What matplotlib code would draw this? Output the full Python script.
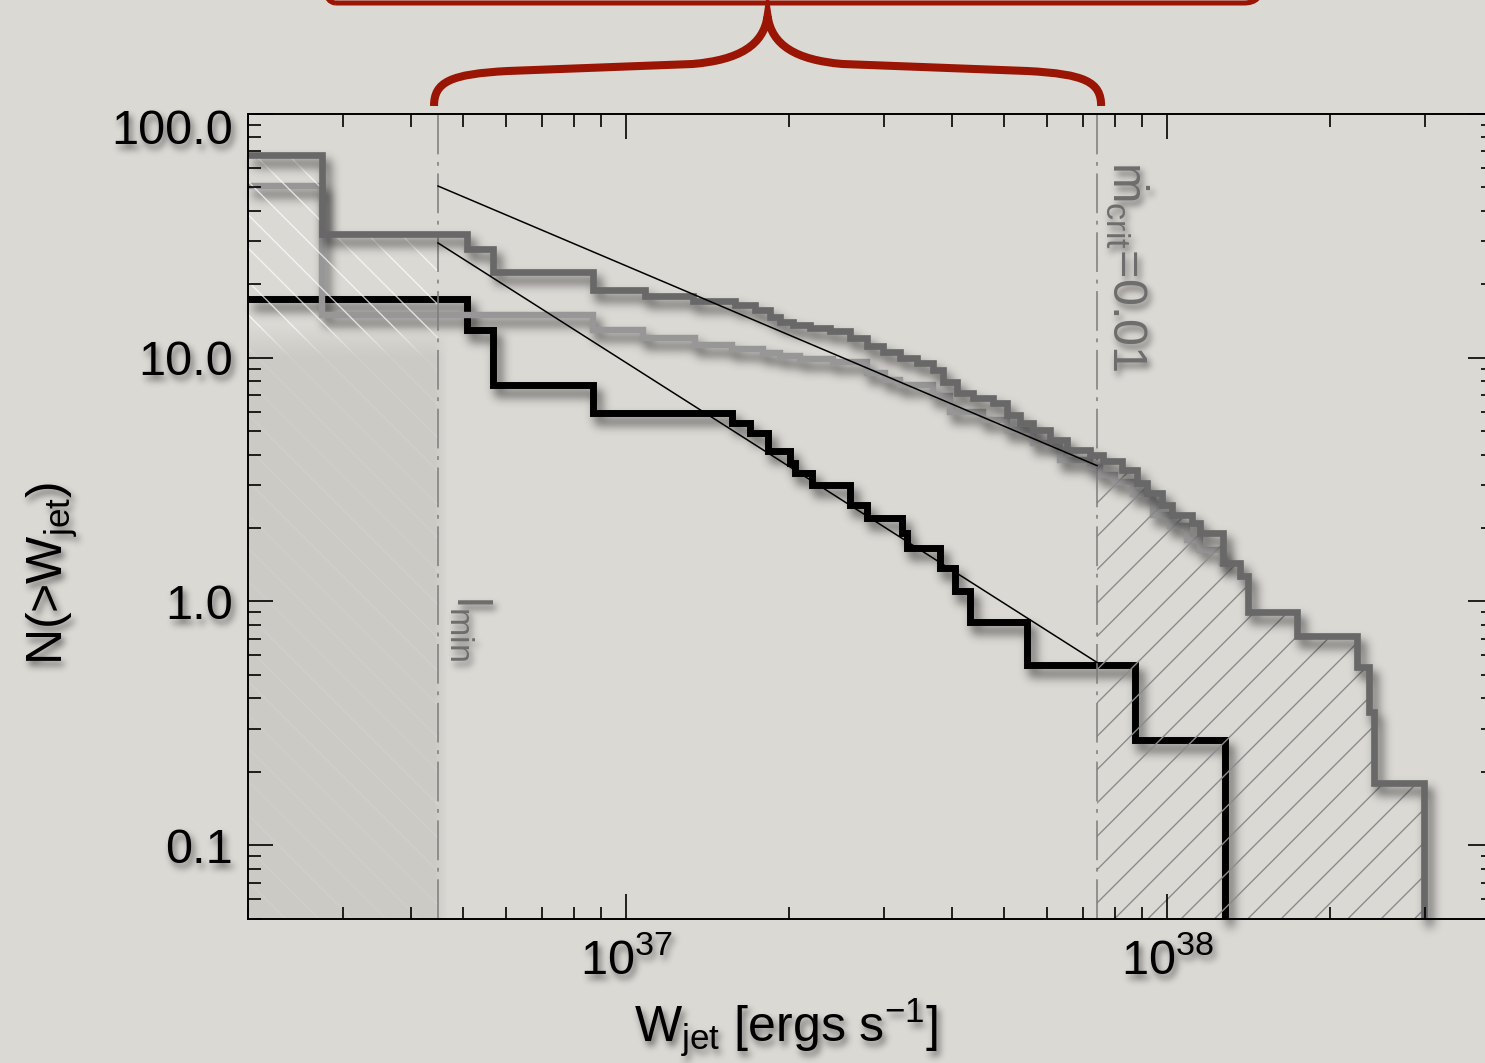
import numpy as np
import matplotlib
matplotlib.use("Agg")
import matplotlib.pyplot as plt
from matplotlib import ticker, transforms
from matplotlib.path import Path
from matplotlib.patches import PathPatch, FancyBboxPatch

plt.rcParams['font.family'] = ['Liberation Sans', 'DejaVu Sans']
plt.rcParams['mathtext.fontset'] = 'custom'
plt.rcParams['mathtext.rm'] = 'Liberation Sans'
plt.rcParams['mathtext.it'] = 'Liberation Sans:italic'
plt.rcParams['mathtext.bf'] = 'Liberation Sans:bold'
plt.rcParams['hatch.linewidth'] = 1.0

E37 = 1e37

# cumulative counts N(>W), step edges in units of 1e37 erg/s
w_dark = [0.15, 0.274, 0.508, 0.568, 0.869, 1.084, 1.330, 1.591, 1.731, 1.845,
          1.926, 2.035, 2.188, 2.383, 2.594, 2.790, 2.985, 3.210, 3.451, 3.694,
          3.855, 4.091, 4.379, 4.768, 5.062, 5.350, 5.653, 6.076, 6.535, 7.206,
          7.615, 8.257, 8.803, 9.183, 9.790, 10.21, 11.12, 11.51, 12.69, 13.64,
          14.12, 17.39, 22.45, 23.63, 24.13, 29.85]
n_dark = [68, 32.1, 27.8, 22.5, 18.9, 17.8, 17.1, 16.4, 15.7, 14.7,
          14.0, 13.6, 13.2, 12.8, 12.0, 11.2, 10.5, 10.0, 9.5, 8.9,
          7.9, 7.17, 6.84, 6.52, 5.82, 5.4, 5.05, 4.60, 4.19, 4.0,
          3.75, 3.46, 3.06, 2.79, 2.49, 2.27, 2.10, 1.91, 1.44, 1.27,
          0.90, 0.72, 0.54, 0.35, 0.18, 0.01]

w_light = [0.15, 0.274, 0.869, 1.075, 1.341, 1.570, 1.791, 1.926, 2.097, 2.413,
           2.790, 3.011, 3.210, 3.694, 3.971, 4.570, 5.062, 5.653, 6.342, 7.206,
           7.518, 8.016, 8.653, 9.422, 10.13, 10.89, 11.51, 12.64]
n_light = [50.5, 15.0, 13.0, 12.0, 11.3, 10.8, 10.4, 10.1, 9.9, 9.6,
           8.6, 8.1, 7.7, 6.92, 6.0, 5.56, 5.05, 4.47, 3.8, 3.54,
           3.30, 3.10, 2.76, 2.27, 2.03, 1.79, 1.63, 1.44]

w_black = [0.15, 0.508, 0.568, 0.869, 1.570, 1.695, 1.830, 2.010, 2.053, 2.207,
           2.594, 2.790, 3.237, 3.306, 3.806, 4.056, 4.324, 5.510, 8.730, 12.80]
n_black = [17.4, 13.0, 7.73, 5.92, 5.38, 4.90, 4.12, 3.70, 3.36, 3.01,
           2.49, 2.20, 1.91, 1.66, 1.37, 1.10, 0.824, 0.55, 0.271, 0.01]

L_MIN = 0.449    # lower luminosity cut
W_CRIT = 7.42    # mdot_crit = 0.01

fit_w = [L_MIN, W_CRIT]
fit_shallow = [50.5, 3.6]
fit_steep = [29.5, 0.561]

y_ticks = [0.1, 1.0, 10.0, 100.0]
y_ticklabels = ["0.1", "1.0", "10.0", "100.0"]

BG = '#dbd9d4'
SHADE = (0.795, 0.787, 0.768)
RED = '#9a1503'
GREY_TXT = '#6e6e6e'


def _blur(a, s):
    r = max(1, int(3 * s))
    k = np.exp(-0.5 * (np.arange(-r, r + 1) / s) ** 2)
    k /= k.sum()
    h, w = a.shape
    p = np.pad(a, ((0, 0), (r, r)))
    b = sum(k[i] * p[:, i:i + w] for i in range(2 * r + 1))
    p = np.pad(b, ((r, r), (0, 0)))
    return sum(k[i] * p[i:i + h, :] for i in range(2 * r + 1))


class Soft:
    """agg_filter: blurred, shifted copy of the artist (drop shadow)."""
    def __init__(self, sigma, alpha, dx=0, dy=0, color=(0, 0, 0)):
        self.sigma, self.alpha, self.dx, self.dy = sigma, alpha, dx, dy
        self.color = color

    def __call__(self, im, dpi):
        pad = int(3 * self.sigma) + max(abs(self.dx), abs(self.dy)) + 2
        src = np.pad(im, ((pad, pad), (pad, pad), (0, 0)))
        a = _blur(src[..., 3], self.sigma)
        a = np.roll(np.roll(a, self.dy, axis=0), self.dx, axis=1) * self.alpha
        out = np.zeros_like(src)
        out[..., :3] = self.color
        out[..., 3] = a
        sa = src[..., 3:]
        oa = sa + out[..., 3:] * (1 - sa)
        out[..., :3] = (src[..., :3] * sa + out[..., :3] * out[..., 3:] * (1 - sa)) / np.maximum(oa, 1e-6)
        out[..., 3:] = oa
        return out, -pad, -pad


W, H = 1485, 1063
fig = plt.figure(figsize=(W / 100, H / 100), dpi=100, facecolor=BG)
ax = fig.add_axes([248 / W, 1 - 918.5 / H, (1493 - 248) / W, (918.5 - 113.7) / H])
ax.set_facecolor('none')
ax.set_xscale('log')
ax.set_yscale('log')
ax.set_xlim(2e36, 4e38)
ax.set_ylim(0.05, 100)

line_shadow = Soft(5, 0.6, dx=5, dy=8)
text_shadow = Soft(3.5, 0.55, dx=3, dy=5)

wd = np.array(w_dark) * E37
wl = np.array(w_light) * E37
wb = np.array(w_black) * E37

ax.plot(wb, n_black, drawstyle='steps-post', color='black', lw=5.0, zorder=3,
        solid_joinstyle='miter', agg_filter=line_shadow)
ax.plot(wl, n_light, drawstyle='steps-post', color='#979797', lw=4.6, zorder=4,
        solid_joinstyle='miter', agg_filter=line_shadow)

# hatched zones outside the fitted range
left = wd < L_MIN * E37
xl_fill = np.append(wd[left], L_MIN * E37)
yl_fill = np.append(np.array(n_dark)[left], np.array(n_dark)[left][-1])
ax.fill_between(xl_fill, 0.01, yl_fill, step='post', facecolor='none',
                edgecolor=(1, 1, 1, 0.7), hatch='\\', lw=0, zorder=4.5)

right = wd > W_CRIT * E37
i0 = np.searchsorted(wd, W_CRIT * E37) - 1
xr_fill = np.concatenate([[W_CRIT * E37], wd[right]])
yr_fill = np.concatenate([[n_dark[i0]], np.array(n_dark)[right]])
ax.fill_between(xr_fill, 0.01, yr_fill, step='post', facecolor='none',
                edgecolor='#8c8c8c', hatch='/', lw=0, zorder=4.5)

# soft darker band over the lower part of the l < l_min zone
bx = ax.transData.transform((L_MIN * E37, 13.5)) - ax.bbox.p0
nx, ny = int(bx[0]) + 10, int(bx[1])
gx = np.clip((nx - np.arange(nx)) / 14.0, 0, 1)
gy = np.clip(np.arange(ny) / 30.0, 0, 1)
band = np.zeros((ny, nx, 4))
band[..., :3] = SHADE
band[..., 3] = 0.85 * gy[:, None] * gx[None, :]
ax.imshow(band, extent=[0, nx / ax.bbox.width, 0, ny / ax.bbox.height],
          transform=ax.transAxes, aspect='auto', origin='upper',
          interpolation='bilinear', zorder=4.55)

ax.plot(wd, n_dark, drawstyle='steps-post', color='#686868', lw=4.8, zorder=5,
        solid_joinstyle='miter', agg_filter=line_shadow)

ax.plot(np.array(fit_w) * E37, fit_shallow, color='black', lw=1.1, zorder=6)
ax.plot(np.array(fit_w) * E37, fit_steep, color='black', lw=1.1, zorder=6)

for xv in (L_MIN, W_CRIT):
    ax.axvline(xv * E37, color='#7c7c7c', lw=1.1, dashes=(26, 5, 2.5, 5), zorder=4.6)

ax.text(W_CRIT * E37 * 1.07, 64, r"$\dot{\rm m}_{\rm crit}$=0.01", rotation=-90,
        rotation_mode='anchor', ha='left', va='baseline', fontsize=35,
        color=GREY_TXT, zorder=7, agg_filter=text_shadow)
ax.text(0.487 * E37, 1.065, r"l$_{\rm min}$", rotation=-90, rotation_mode='anchor',
        ha='left', va='baseline', fontsize=35, color=GREY_TXT, zorder=7,
        agg_filter=text_shadow)

ax.set_xlim(2e36, 4e38)
ax.set_ylim(0.05, 100)

# axes styling
ax.yaxis.set_major_locator(ticker.FixedLocator(y_ticks))
ax.yaxis.set_major_formatter(ticker.FixedFormatter(y_ticklabels))
ax.yaxis.set_minor_locator(ticker.LogLocator(base=10, subs=np.arange(2, 10)))
ax.yaxis.set_minor_formatter(ticker.NullFormatter())
ax.xaxis.set_major_locator(ticker.LogLocator(base=10))
ax.xaxis.set_minor_locator(ticker.LogLocator(base=10, subs=np.arange(2, 10)))
ax.xaxis.set_minor_formatter(ticker.NullFormatter())
ax.tick_params(which='both', direction='in', top=True, right=True, width=1.2, color='black')
ax.tick_params(which='major', length=18, labelsize=35)
ax.tick_params(which='minor', length=9)
ax.tick_params(axis='y', which='major', pad=11)
ax.tick_params(axis='x', which='major', pad=14)
ax.xaxis.set_zorder(10)
ax.yaxis.set_zorder(10)
for s in ax.spines.values():
    s.set_linewidth(1.4)
    s.set_zorder(10)

ax.set_xlabel(r"W$_{\rm jet}$ [ergs s$^{-1}$]", fontsize=36, agg_filter=text_shadow)
ax.xaxis.set_label_coords(0.432, -0.097)
ax.set_ylabel(r"N(>W$_{\rm jet}$)", fontsize=36, agg_filter=text_shadow)
ax.yaxis.set_label_coords(-0.135, 0.429)

fig.canvas.draw()
for t in ax.xaxis.get_major_ticks() + ax.yaxis.get_major_ticks():
    t.label1.set_agg_filter(text_shadow)
for t in ax.yaxis.get_major_ticks():
    if t.label1.get_text() == "100.0":
        t.label1.set_transform(t.label1.get_transform() +
                               transforms.ScaledTranslation(0, -0.13, fig.dpi_scale_trans))

# red brace spanning l_min .. mdot_crit, plus the box edge above it
xl = ax.transData.transform((L_MIN * E37, 1))[0]
xr = ax.transData.transform((W_CRIT * E37, 1))[0]
xm = 0.5 * (xl + xr)
pts = [(xl - 4, 106), (xl - 4, 82), (xl + 12, 74), (xl + 70, 71),
       (xm - 75, 64),
       (xm - 28, 60), (xm - 4, 45), (xm, 16),
       (xm + 4, 45), (xm + 28, 60), (xm + 75, 64),
       (xr - 70, 71),
       (xr - 12, 74), (xr + 4, 82), (xr + 4, 106)]
codes = [Path.MOVETO, Path.CURVE4, Path.CURVE4, Path.CURVE4,
         Path.LINETO,
         Path.CURVE4, Path.CURVE4, Path.CURVE4,
         Path.CURVE4, Path.CURVE4, Path.CURVE4,
         Path.LINETO,
         Path.CURVE4, Path.CURVE4, Path.CURVE4]
brace = Path([(x, H - y) for x, y in pts], codes)
fig.add_artist(PathPatch(brace, transform=transforms.IdentityTransform(),
                         fc='none', ec=RED, lw=5.8, capstyle='butt'))
fig.add_artist(FancyBboxPatch((318, H - 3), 944, 80,
                              boxstyle="round,pad=0,rounding_size=18",
                              transform=transforms.IdentityTransform(),
                              fc='none', ec=RED, lw=3.6))

fig.savefig("out.png", dpi=100, facecolor=BG)
